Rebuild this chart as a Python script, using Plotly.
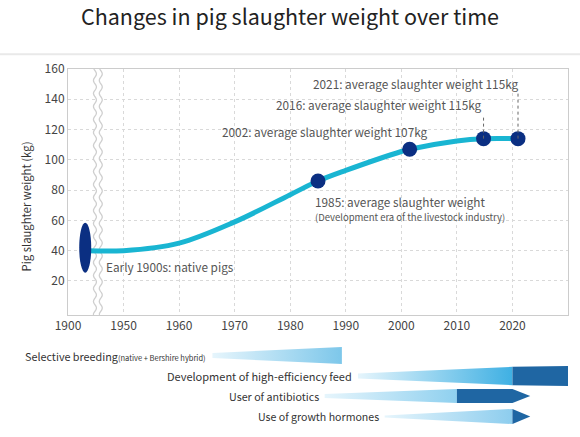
import numpy as np
import plotly.graph_objects as go

# x axis is positional: 1940 is drawn as "1900" (axis break), 2030 as "2040"
tick_pos = [1940, 1950, 1960, 1970, 1980, 1990, 2000, 2010, 2020, 2030]
tick_text = ["1900", "1950", "1960", "1970", "1980", "1990", "2000", "2010", "2020", "2040"]
weight_ticks = [20, 40, 60, 80, 100, 120, 140, 160]

# slaughter weight curve
curve_year = [1943.5, 1950, 1960, 1970, 1980, 1985, 1990, 2000, 2001.5, 2010, 2014.8, 2021]
curve_kg = [40, 40, 45, 59, 77, 86, 93, 105.5, 107, 112.5, 114, 114]

native_year = 1943.1
native_kg = 42

milestone_year = [1985, 2001.5, 2014.8, 2021]
milestone_kg = [86, 107, 114, 114]

# bottom timeline of practices
trend_label = [
    "Selective breeding<span style='font-size:7.5px'>(native + Bershire hybrid)</span>",
    "Development of high-efficiency feed",
    "User of antibiotics",
    "Use of growth hormones",
]
trend_start = [1966, 1992.2, 1986.2, 1997]
trend_fade_end = [1989.3, 2020, 2010, 2020]
trend_dark_end = [None, 2030, 2020, 2020]
trend_tip = [None, None, 2023.2, 2023.2]

W, H = 580, 437
ML, MR, MT, MB = 68, 12, 69, 0
PW, PH = W - ML - MR, H - MT - MB
main_bottom = 315
y_lo, y_hi = -2.5, 160

FONT = "Noto Sans CJK KR"
LINE = "#19b5d2"
NAVY = "#0b2f82"
DARK = "#1f66a3"
TXT = "#555555"

fig = go.Figure()

# axis-break wave (decoration)
px_per_yr = PW / (tick_pos[-1] - tick_pos[0])
px_per_kg = (main_bottom - MT) / (y_hi - y_lo)
ys = np.linspace(y_lo, y_hi, 200)
amp = 1.5 / px_per_yr
wave = amp * np.sin(2 * np.pi * ys / (13 / px_per_kg))
xl = 1944.85 + wave
xr = 1945.9 + wave


def path(xs, yv):
    return "M" + " L".join(f"{a:.3f},{b:.3f}" for a, b in zip(xs, yv))


fill_path = path(np.r_[xl, xr[::-1]], np.r_[ys, ys[::-1]]) + " Z"
fig.add_shape(type="path", path=fill_path, xref="x", yref="y", fillcolor="white",
              line_width=0, layer="between")
for xs in (xl, xr):
    fig.add_shape(type="path", path=path(xs, ys), xref="x", yref="y",
                  line=dict(color="#cfcfcf", width=1.3), layer="between")
# gap in the bottom axis line between the waves
fig.add_shape(type="rect", xref="x", yref="y", ysizemode="pixel", yanchor=y_lo,
              x0=xl[0] + 0.15, x1=xr[0] - 0.15, y0=-1.5, y1=1.5,
              fillcolor="white", line_width=0, layer="above")

fig.add_trace(go.Scatter(x=curve_year, y=curve_kg, mode="lines",
                         line=dict(color=LINE, width=5, shape="spline", smoothing=1.0),
                         hoverinfo="skip", showlegend=False))

# leaders for the 2016 / 2021 labels
for yr, kg, top in zip(milestone_year[2:], milestone_kg[2:], [129.5, 144.0]):
    fig.add_shape(type="line", x0=yr, x1=yr, y0=kg, y1=top, xref="x", yref="y",
                  line=dict(color="#666666", width=1, dash="dot"))

fig.add_trace(go.Scatter(x=milestone_year, y=milestone_kg, mode="markers",
                         marker=dict(color=NAVY, size=15), hoverinfo="skip",
                         showlegend=False))

fig.add_shape(type="circle", xref="x", yref="y", xsizemode="pixel", ysizemode="pixel",
              xanchor=native_year, yanchor=native_kg, x0=-6, x1=6, y0=-25, y1=25,
              fillcolor=NAVY, line_width=0)

notes = [
    ("Early 1900s: native pigs", 1946.4, 29.5, "left", 11.8),
    ("1985: average slaughter weight", 1984.1, 72.5, "left", 11.8),
    ("(Development era of the livestock industry)", 1984.1, 62, "left", 9.5),
    ("2002: average slaughter weight 107kg", 2005.2, 119, "right", 11.8),
    ("2016: average slaughter weight 115kg", 2014.9, 136.3, "right", 11.8),
    ("2021: average slaughter weight 115kg", 2021.6, 150.6, "right", 11.8),
]
for txt, x, y, anc, sz in notes:
    fig.add_annotation(text=txt, x=x, y=y, xref="x", yref="y", xanchor=anc,
                       yanchor="middle", showarrow=False,
                       font=dict(family=FONT, size=sz, color=TXT))

# bottom practice bars (page-pixel rows on y2)
row_y = [355.5, 376, 396, 416.5]
half0 = [2.5, 2.5, 2, 1]
half1 = [8.5, 9.2, 7, 7.5]
fade_col = ["#7dc7ea", "#3fb0e3", "#8fd0ef", "#8dcdee"]
label_size = [10.8, 11, 10.7, 10.6]
for i in range(4):
    c, s, f = row_y[i], trend_start[i], trend_fade_end[i]
    fig.add_trace(go.Scatter(
        x=[s, f, f, s, s], y=[c - half0[i], c - half1[i], c + half1[i], c + half0[i], c - half0[i]],
        xaxis="x2", yaxis="y2", mode="lines", line_width=0, fill="toself",
        fillgradient=dict(type="horizontal", colorscale=[[0, "#e6f5fc"], [1, fade_col[i]]]),
        hoverinfo="skip", showlegend=False))
    d, t = trend_dark_end[i], trend_tip[i]
    if d is not None:
        h1 = half1[i]
        h2 = 10 if t is None else h1
        if t is not None:
            xs = [f, d, t, d, f]
            yv = [c - h1, c - h2, c, c + h2, c + h1]
        else:
            xs = [f, d, d, f]
            yv = [c - h1, c - h2, c + h2, c + h1]
        fig.add_trace(go.Scatter(x=xs, y=yv, xaxis="x2", yaxis="y2", mode="lines",
                                 line_width=0, fill="toself", fillcolor=DARK,
                                 hoverinfo="skip", showlegend=False))
    fig.add_annotation(text=trend_label[i], x=s, y=c, xref="x2", yref="y2",
                       xanchor="right", yanchor="middle", xshift=-4, showarrow=False,
                       font=dict(family=FONT, size=label_size[i], color="#333333"))

# separator under the title
fig.add_shape(type="line", xref="paper", yref="paper", x0=-ML / PW, x1=1 + MR / PW,
              y0=(H - 54.3) / PH, y1=(H - 54.3) / PH, line=dict(color="#e9e9e9", width=2))

# y axis title as annotation (sits lower than the axis centre in the reference)
fig.add_annotation(text="Pig slaughter weight (kg)", textangle=-90, xref="paper", yref="paper",
                   x=(25 - ML) / PW, y=(H - 206.5) / PH, xanchor="center", yanchor="middle",
                   showarrow=False, font=dict(family=FONT, size=11.3, color="#333333"))

grid = dict(showgrid=True, gridcolor="#d9d9d9", griddash="dot", gridwidth=1,
            showline=True, linecolor="#cccccc", linewidth=1, mirror=True,
            zeroline=False, ticks="", automargin=False,
            tickfont=dict(family=FONT, size=12, color="#444444"))

fig.update_layout(
    width=W, height=H,
    margin=dict(l=ML, r=MR, t=MT, b=MB, autoexpand=False),
    paper_bgcolor="white", plot_bgcolor="white",
    font=dict(family=FONT),
    title=dict(text="Changes in pig slaughter weight over time", x=0.5, xref="container",
               xanchor="center", y=1 - 17 / H, yref="container", yanchor="middle",
               font=dict(family=FONT, size=21.5, color="#222222")),
    xaxis=dict(range=[tick_pos[0], tick_pos[-1]], tickvals=tick_pos, ticktext=tick_text,
               domain=[0, 1], anchor="y", **grid),
    yaxis=dict(range=[y_lo, y_hi], tickvals=weight_ticks,
               domain=[(H - main_bottom) / PH, 1], anchor="x", **grid),
    xaxis2=dict(range=[tick_pos[0], tick_pos[-1]], domain=[0, 1], anchor="y2",
                visible=False),
    yaxis2=dict(range=[H, 340], domain=[0, (H - 340) / PH], anchor="x2", visible=False),
)

fig.write_html("out.html", config={"displayModeBar": False},
               post_script="document.body.style.margin='0px';")
